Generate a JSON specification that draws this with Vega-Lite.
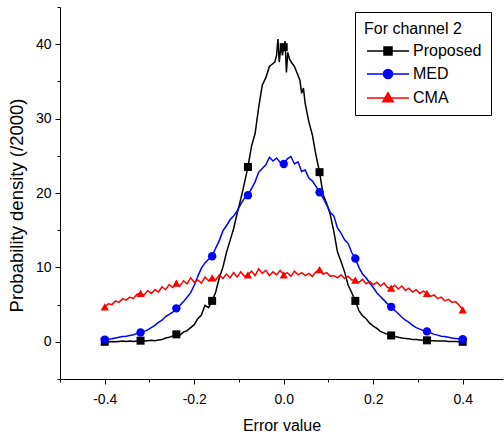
{
  "$schema": "https://vega.github.io/schema/vega-lite/v6.json",
  "width": 443,
  "height": 372,
  "autosize": {"type": "none"},
  "padding": {"left": 60, "top": 7, "right": 1, "bottom": 58},
  "background": "white",
  "config": {
    "view": {"stroke": null},
    "font": "Liberation Sans",
    "axis": {"grid": false, "domainColor": "black", "tickColor": "black", "labelColor": "black", "titleColor": "black", "titleFontWeight": "normal", "labelFontSize": 14, "titleFontSize": 16, "labelOverlap": false, "labelFlush": false, "domainWidth": 1, "tickWidth": 1}
  },
  "datasets": {
    "curves": [
      {"x": -0.4, "y": 0, "s": "Proposed"}, {"x": -0.392, "y": 0, "s": "Proposed"}, {"x": -0.384, "y": 0.05, "s": "Proposed"}, {"x": -0.376, "y": 0, "s": "Proposed"}, {"x": -0.368, "y": 0.05, "s": "Proposed"}, {"x": -0.36, "y": 0.1, "s": "Proposed"}, {"x": -0.352, "y": 0.05, "s": "Proposed"}, {"x": -0.344, "y": 0.1, "s": "Proposed"}, {"x": -0.336, "y": 0.05, "s": "Proposed"}, {"x": -0.328, "y": 0.1, "s": "Proposed"},
      {"x": -0.32, "y": 0.15, "s": "Proposed"}, {"x": -0.312, "y": 0.1, "s": "Proposed"}, {"x": -0.304, "y": 0.15, "s": "Proposed"}, {"x": -0.296, "y": 0.2, "s": "Proposed"}, {"x": -0.288, "y": 0.15, "s": "Proposed"}, {"x": -0.28, "y": 0.25, "s": "Proposed"}, {"x": -0.272, "y": 0.3, "s": "Proposed"}, {"x": -0.264, "y": 0.5, "s": "Proposed"}, {"x": -0.256, "y": 0.6, "s": "Proposed"}, {"x": -0.248, "y": 0.8, "s": "Proposed"},
      {"x": -0.24, "y": 1.0, "s": "Proposed"}, {"x": -0.232, "y": 0.9, "s": "Proposed"}, {"x": -0.224, "y": 1.3, "s": "Proposed"}, {"x": -0.216, "y": 1.5, "s": "Proposed"}, {"x": -0.208, "y": 1.9, "s": "Proposed"}, {"x": -0.2, "y": 2.3, "s": "Proposed"}, {"x": -0.192, "y": 3.1, "s": "Proposed"}, {"x": -0.184, "y": 3.6, "s": "Proposed"}, {"x": -0.176, "y": 4.9, "s": "Proposed"}, {"x": -0.168, "y": 4.6, "s": "Proposed"},
      {"x": -0.16, "y": 5.5, "s": "Proposed"}, {"x": -0.152, "y": 6.7, "s": "Proposed"}, {"x": -0.144, "y": 8.6, "s": "Proposed"}, {"x": -0.136, "y": 10.0, "s": "Proposed"}, {"x": -0.128, "y": 12.0, "s": "Proposed"}, {"x": -0.12, "y": 13.6, "s": "Proposed"}, {"x": -0.112, "y": 15.2, "s": "Proposed"}, {"x": -0.104, "y": 17.3, "s": "Proposed"}, {"x": -0.096, "y": 19.2, "s": "Proposed"}, {"x": -0.088, "y": 21.3, "s": "Proposed"},
      {"x": -0.08, "y": 23.5, "s": "Proposed"}, {"x": -0.072, "y": 26.3, "s": "Proposed"}, {"x": -0.064, "y": 28.0, "s": "Proposed"}, {"x": -0.056, "y": 31.5, "s": "Proposed"}, {"x": -0.048, "y": 34.5, "s": "Proposed"}, {"x": -0.04, "y": 35.5, "s": "Proposed"}, {"x": -0.032, "y": 37.0, "s": "Proposed"}, {"x": -0.024, "y": 37.4, "s": "Proposed"}, {"x": -0.02, "y": 37.6, "s": "Proposed"}, {"x": -0.016, "y": 38.5, "s": "Proposed"},
      {"x": -0.013, "y": 40.7, "s": "Proposed"}, {"x": -0.01, "y": 37.6, "s": "Proposed"}, {"x": -0.006, "y": 40.0, "s": "Proposed"}, {"x": -0.003, "y": 38.5, "s": "Proposed"}, {"x": 0, "y": 39.6, "s": "Proposed"}, {"x": 0.003, "y": 40.4, "s": "Proposed"}, {"x": 0.006, "y": 36.2, "s": "Proposed"}, {"x": 0.009, "y": 38.9, "s": "Proposed"}, {"x": 0.013, "y": 38.0, "s": "Proposed"}, {"x": 0.018, "y": 37.5, "s": "Proposed"},
      {"x": 0.024, "y": 37.0, "s": "Proposed"}, {"x": 0.032, "y": 35.8, "s": "Proposed"}, {"x": 0.036, "y": 35.2, "s": "Proposed"}, {"x": 0.04, "y": 33.4, "s": "Proposed"}, {"x": 0.044, "y": 34.1, "s": "Proposed"}, {"x": 0.048, "y": 32.0, "s": "Proposed"}, {"x": 0.056, "y": 29.6, "s": "Proposed"}, {"x": 0.064, "y": 27.8, "s": "Proposed"}, {"x": 0.072, "y": 25.1, "s": "Proposed"}, {"x": 0.08, "y": 22.8, "s": "Proposed"},
      {"x": 0.088, "y": 19.8, "s": "Proposed"}, {"x": 0.096, "y": 18.6, "s": "Proposed"}, {"x": 0.104, "y": 17.1, "s": "Proposed"}, {"x": 0.112, "y": 14.8, "s": "Proposed"}, {"x": 0.12, "y": 12.1, "s": "Proposed"}, {"x": 0.128, "y": 10.8, "s": "Proposed"}, {"x": 0.136, "y": 9.4, "s": "Proposed"}, {"x": 0.144, "y": 7.6, "s": "Proposed"}, {"x": 0.152, "y": 6.6, "s": "Proposed"}, {"x": 0.16, "y": 5.5, "s": "Proposed"},
      {"x": 0.168, "y": 4.2, "s": "Proposed"}, {"x": 0.176, "y": 3.5, "s": "Proposed"}, {"x": 0.184, "y": 3.1, "s": "Proposed"}, {"x": 0.192, "y": 2.5, "s": "Proposed"}, {"x": 0.2, "y": 2.1, "s": "Proposed"}, {"x": 0.208, "y": 1.8, "s": "Proposed"}, {"x": 0.216, "y": 1.4, "s": "Proposed"}, {"x": 0.224, "y": 1.2, "s": "Proposed"}, {"x": 0.232, "y": 1.0, "s": "Proposed"}, {"x": 0.24, "y": 0.85, "s": "Proposed"},
      {"x": 0.248, "y": 0.7, "s": "Proposed"}, {"x": 0.256, "y": 0.6, "s": "Proposed"}, {"x": 0.264, "y": 0.5, "s": "Proposed"}, {"x": 0.272, "y": 0.45, "s": "Proposed"}, {"x": 0.28, "y": 0.4, "s": "Proposed"}, {"x": 0.288, "y": 0.3, "s": "Proposed"}, {"x": 0.296, "y": 0.3, "s": "Proposed"}, {"x": 0.304, "y": 0.25, "s": "Proposed"}, {"x": 0.312, "y": 0.2, "s": "Proposed"}, {"x": 0.32, "y": 0.2, "s": "Proposed"},
      {"x": 0.328, "y": 0.15, "s": "Proposed"}, {"x": 0.336, "y": 0.15, "s": "Proposed"}, {"x": 0.344, "y": 0.1, "s": "Proposed"}, {"x": 0.352, "y": 0.1, "s": "Proposed"}, {"x": 0.36, "y": 0.1, "s": "Proposed"}, {"x": 0.368, "y": 0.05, "s": "Proposed"}, {"x": 0.376, "y": 0.05, "s": "Proposed"}, {"x": 0.384, "y": 0.05, "s": "Proposed"}, {"x": 0.392, "y": 0, "s": "Proposed"}, {"x": 0.4, "y": 0, "s": "Proposed"},

      {"x": -0.4, "y": 0.3, "s": "MED"}, {"x": -0.392, "y": 0.35, "s": "MED"}, {"x": -0.384, "y": 0.4, "s": "MED"}, {"x": -0.376, "y": 0.5, "s": "MED"}, {"x": -0.368, "y": 0.6, "s": "MED"}, {"x": -0.36, "y": 0.7, "s": "MED"}, {"x": -0.352, "y": 0.75, "s": "MED"}, {"x": -0.344, "y": 0.85, "s": "MED"}, {"x": -0.336, "y": 0.95, "s": "MED"}, {"x": -0.328, "y": 1.1, "s": "MED"},
      {"x": -0.32, "y": 1.25, "s": "MED"}, {"x": -0.312, "y": 1.4, "s": "MED"}, {"x": -0.304, "y": 1.6, "s": "MED"}, {"x": -0.296, "y": 1.9, "s": "MED"}, {"x": -0.288, "y": 2.2, "s": "MED"}, {"x": -0.28, "y": 2.6, "s": "MED"}, {"x": -0.272, "y": 2.9, "s": "MED"}, {"x": -0.264, "y": 3.4, "s": "MED"}, {"x": -0.256, "y": 3.7, "s": "MED"}, {"x": -0.248, "y": 4.0, "s": "MED"},
      {"x": -0.24, "y": 4.5, "s": "MED"}, {"x": -0.232, "y": 4.9, "s": "MED"}, {"x": -0.224, "y": 5.4, "s": "MED"}, {"x": -0.216, "y": 6.0, "s": "MED"}, {"x": -0.208, "y": 6.6, "s": "MED"}, {"x": -0.2, "y": 7.6, "s": "MED"}, {"x": -0.192, "y": 8.8, "s": "MED"}, {"x": -0.184, "y": 9.9, "s": "MED"}, {"x": -0.176, "y": 10.6, "s": "MED"}, {"x": -0.168, "y": 11.1, "s": "MED"},
      {"x": -0.16, "y": 11.5, "s": "MED"}, {"x": -0.152, "y": 12.6, "s": "MED"}, {"x": -0.144, "y": 13.6, "s": "MED"}, {"x": -0.136, "y": 14.9, "s": "MED"}, {"x": -0.128, "y": 15.6, "s": "MED"}, {"x": -0.12, "y": 16.4, "s": "MED"}, {"x": -0.112, "y": 16.9, "s": "MED"}, {"x": -0.104, "y": 17.6, "s": "MED"}, {"x": -0.096, "y": 18.5, "s": "MED"}, {"x": -0.088, "y": 19.3, "s": "MED"},
      {"x": -0.08, "y": 19.7, "s": "MED"}, {"x": -0.072, "y": 20.6, "s": "MED"}, {"x": -0.064, "y": 21.5, "s": "MED"}, {"x": -0.056, "y": 22.8, "s": "MED"}, {"x": -0.048, "y": 23.3, "s": "MED"}, {"x": -0.04, "y": 23.8, "s": "MED"}, {"x": -0.032, "y": 24.8, "s": "MED"}, {"x": -0.024, "y": 24.3, "s": "MED"}, {"x": -0.016, "y": 24.7, "s": "MED"}, {"x": -0.008, "y": 24.1, "s": "MED"},
      {"x": 0, "y": 23.9, "s": "MED"}, {"x": 0.008, "y": 24.6, "s": "MED"}, {"x": 0.016, "y": 24.9, "s": "MED"}, {"x": 0.024, "y": 23.9, "s": "MED"}, {"x": 0.032, "y": 24.2, "s": "MED"}, {"x": 0.04, "y": 22.9, "s": "MED"}, {"x": 0.048, "y": 23.1, "s": "MED"}, {"x": 0.056, "y": 22.0, "s": "MED"}, {"x": 0.064, "y": 21.6, "s": "MED"}, {"x": 0.072, "y": 20.9, "s": "MED"},
      {"x": 0.08, "y": 20.1, "s": "MED"}, {"x": 0.088, "y": 19.3, "s": "MED"}, {"x": 0.096, "y": 18.4, "s": "MED"}, {"x": 0.104, "y": 17.4, "s": "MED"}, {"x": 0.112, "y": 16.9, "s": "MED"}, {"x": 0.12, "y": 15.3, "s": "MED"}, {"x": 0.128, "y": 14.6, "s": "MED"}, {"x": 0.136, "y": 13.7, "s": "MED"}, {"x": 0.144, "y": 13.2, "s": "MED"}, {"x": 0.152, "y": 12.0, "s": "MED"},
      {"x": 0.16, "y": 11.2, "s": "MED"}, {"x": 0.168, "y": 10.0, "s": "MED"}, {"x": 0.176, "y": 9.1, "s": "MED"}, {"x": 0.184, "y": 8.6, "s": "MED"}, {"x": 0.192, "y": 7.9, "s": "MED"}, {"x": 0.2, "y": 7.3, "s": "MED"}, {"x": 0.208, "y": 6.6, "s": "MED"}, {"x": 0.216, "y": 6.1, "s": "MED"}, {"x": 0.224, "y": 5.6, "s": "MED"}, {"x": 0.232, "y": 5.1, "s": "MED"},
      {"x": 0.24, "y": 4.7, "s": "MED"}, {"x": 0.248, "y": 4.2, "s": "MED"}, {"x": 0.256, "y": 3.8, "s": "MED"}, {"x": 0.264, "y": 3.3, "s": "MED"}, {"x": 0.272, "y": 2.9, "s": "MED"}, {"x": 0.28, "y": 2.6, "s": "MED"}, {"x": 0.288, "y": 2.2, "s": "MED"}, {"x": 0.296, "y": 1.9, "s": "MED"}, {"x": 0.304, "y": 1.7, "s": "MED"}, {"x": 0.312, "y": 1.5, "s": "MED"},
      {"x": 0.32, "y": 1.4, "s": "MED"}, {"x": 0.328, "y": 1.2, "s": "MED"}, {"x": 0.336, "y": 1.0, "s": "MED"}, {"x": 0.344, "y": 0.9, "s": "MED"}, {"x": 0.352, "y": 0.75, "s": "MED"}, {"x": 0.36, "y": 0.7, "s": "MED"}, {"x": 0.368, "y": 0.6, "s": "MED"}, {"x": 0.376, "y": 0.5, "s": "MED"}, {"x": 0.384, "y": 0.45, "s": "MED"}, {"x": 0.392, "y": 0.4, "s": "MED"}, {"x": 0.4, "y": 0.35, "s": "MED"},

      {"x": -0.4, "y": 4.7, "s": "CMA"}, {"x": -0.392, "y": 5.1, "s": "CMA"}, {"x": -0.384, "y": 5.0, "s": "CMA"}, {"x": -0.376, "y": 5.5, "s": "CMA"}, {"x": -0.368, "y": 5.3, "s": "CMA"}, {"x": -0.36, "y": 5.8, "s": "CMA"}, {"x": -0.352, "y": 5.6, "s": "CMA"}, {"x": -0.344, "y": 6.0, "s": "CMA"}, {"x": -0.336, "y": 5.8, "s": "CMA"}, {"x": -0.328, "y": 6.4, "s": "CMA"},
      {"x": -0.32, "y": 6.5, "s": "CMA"}, {"x": -0.312, "y": 6.3, "s": "CMA"}, {"x": -0.304, "y": 6.9, "s": "CMA"}, {"x": -0.296, "y": 6.5, "s": "CMA"}, {"x": -0.288, "y": 7.0, "s": "CMA"}, {"x": -0.28, "y": 6.7, "s": "CMA"}, {"x": -0.272, "y": 7.4, "s": "CMA"}, {"x": -0.264, "y": 7.0, "s": "CMA"}, {"x": -0.256, "y": 7.7, "s": "CMA"}, {"x": -0.248, "y": 7.3, "s": "CMA"},
      {"x": -0.24, "y": 7.9, "s": "CMA"}, {"x": -0.232, "y": 7.5, "s": "CMA"}, {"x": -0.224, "y": 8.2, "s": "CMA"}, {"x": -0.216, "y": 7.8, "s": "CMA"}, {"x": -0.208, "y": 8.6, "s": "CMA"}, {"x": -0.2, "y": 8.0, "s": "CMA"}, {"x": -0.192, "y": 8.3, "s": "CMA"}, {"x": -0.184, "y": 7.9, "s": "CMA"}, {"x": -0.176, "y": 8.7, "s": "CMA"}, {"x": -0.168, "y": 8.2, "s": "CMA"},
      {"x": -0.16, "y": 8.6, "s": "CMA"}, {"x": -0.152, "y": 8.3, "s": "CMA"}, {"x": -0.144, "y": 9.0, "s": "CMA"}, {"x": -0.136, "y": 8.5, "s": "CMA"}, {"x": -0.128, "y": 9.1, "s": "CMA"}, {"x": -0.12, "y": 8.6, "s": "CMA"}, {"x": -0.112, "y": 9.3, "s": "CMA"}, {"x": -0.104, "y": 8.7, "s": "CMA"}, {"x": -0.096, "y": 9.4, "s": "CMA"}, {"x": -0.088, "y": 8.8, "s": "CMA"},
      {"x": -0.08, "y": 9.0, "s": "CMA"}, {"x": -0.072, "y": 9.5, "s": "CMA"}, {"x": -0.064, "y": 8.9, "s": "CMA"}, {"x": -0.056, "y": 9.8, "s": "CMA"}, {"x": -0.048, "y": 9.2, "s": "CMA"}, {"x": -0.04, "y": 9.6, "s": "CMA"}, {"x": -0.032, "y": 8.9, "s": "CMA"}, {"x": -0.024, "y": 9.4, "s": "CMA"}, {"x": -0.016, "y": 9.0, "s": "CMA"}, {"x": -0.008, "y": 9.6, "s": "CMA"},
      {"x": 0, "y": 9.0, "s": "CMA"}, {"x": 0.008, "y": 9.3, "s": "CMA"}, {"x": 0.016, "y": 8.8, "s": "CMA"}, {"x": 0.024, "y": 9.5, "s": "CMA"}, {"x": 0.032, "y": 9.0, "s": "CMA"}, {"x": 0.04, "y": 9.3, "s": "CMA"}, {"x": 0.048, "y": 8.9, "s": "CMA"}, {"x": 0.056, "y": 9.2, "s": "CMA"}, {"x": 0.064, "y": 8.8, "s": "CMA"}, {"x": 0.072, "y": 9.4, "s": "CMA"},
      {"x": 0.08, "y": 9.7, "s": "CMA"}, {"x": 0.088, "y": 9.1, "s": "CMA"}, {"x": 0.096, "y": 9.3, "s": "CMA"}, {"x": 0.104, "y": 8.8, "s": "CMA"}, {"x": 0.112, "y": 8.9, "s": "CMA"}, {"x": 0.12, "y": 8.6, "s": "CMA"}, {"x": 0.128, "y": 9.0, "s": "CMA"}, {"x": 0.136, "y": 8.5, "s": "CMA"}, {"x": 0.144, "y": 8.8, "s": "CMA"}, {"x": 0.152, "y": 8.3, "s": "CMA"},
      {"x": 0.16, "y": 8.3, "s": "CMA"}, {"x": 0.168, "y": 8.0, "s": "CMA"}, {"x": 0.176, "y": 8.4, "s": "CMA"}, {"x": 0.184, "y": 7.8, "s": "CMA"}, {"x": 0.192, "y": 8.1, "s": "CMA"}, {"x": 0.2, "y": 7.7, "s": "CMA"}, {"x": 0.208, "y": 8.0, "s": "CMA"}, {"x": 0.216, "y": 7.5, "s": "CMA"}, {"x": 0.224, "y": 7.9, "s": "CMA"}, {"x": 0.232, "y": 7.3, "s": "CMA"},
      {"x": 0.24, "y": 7.2, "s": "CMA"}, {"x": 0.248, "y": 7.6, "s": "CMA"}, {"x": 0.256, "y": 7.1, "s": "CMA"}, {"x": 0.264, "y": 7.5, "s": "CMA"}, {"x": 0.272, "y": 6.9, "s": "CMA"}, {"x": 0.28, "y": 7.2, "s": "CMA"}, {"x": 0.288, "y": 6.7, "s": "CMA"}, {"x": 0.296, "y": 7.0, "s": "CMA"}, {"x": 0.304, "y": 6.5, "s": "CMA"}, {"x": 0.312, "y": 6.8, "s": "CMA"},
      {"x": 0.32, "y": 6.5, "s": "CMA"}, {"x": 0.328, "y": 6.1, "s": "CMA"}, {"x": 0.336, "y": 6.3, "s": "CMA"}, {"x": 0.344, "y": 5.8, "s": "CMA"}, {"x": 0.352, "y": 6.0, "s": "CMA"}, {"x": 0.36, "y": 5.5, "s": "CMA"}, {"x": 0.368, "y": 5.7, "s": "CMA"}, {"x": 0.376, "y": 5.3, "s": "CMA"}, {"x": 0.384, "y": 5.4, "s": "CMA"}, {"x": 0.392, "y": 4.9, "s": "CMA"}, {"x": 0.4, "y": 4.3, "s": "CMA"}
    ]
  },
  "data": {"name": "curves"},
  "encoding": {
    "x": {
      "field": "x", "type": "quantitative",
      "scale": {"domain": [-0.5, 0.49], "nice": false, "zero": false},
      "axis": {
        "title": "Error value",
        "values": [-0.5, -0.4, -0.3, -0.2, -0.1, 0, 0.1, 0.2, 0.3, 0.4],
        "labelExpr": "abs(round(datum.value*10)) % 2 == 0 ? replace(format(datum.value, '.1f'), '\u2212', '-') : ''",
        "tickSize": {"condition": {"test": "abs(round(datum.value*10)) % 2 == 0", "value": 5}, "value": 3},
        "labelPadding": 8,
        "titlePadding": 11
      }
    },
    "y": {
      "field": "y", "type": "quantitative",
      "scale": {"domain": [-5, 45], "nice": false, "zero": false},
      "axis": {
        "title": "Probability density (/2000)",
        "titleFontSize": 18.5,
        "titleY": 198,
        "values": [-5, 0, 5, 10, 15, 20, 25, 30, 35, 40, 45],
        "labelExpr": "datum.value % 10 == 0 ? datum.label : ''",
        "tickSize": {"condition": {"test": "datum.value % 10 == 0", "value": 5}, "value": 3},
        "labelPadding": 4,
        "titlePadding": 9
      }
    }
  },
  "layer": [
    {
      "mark": {"type": "line", "strokeWidth": 1.5},
      "encoding": {
        "color": {
          "field": "s", "type": "nominal",
          "scale": {"domain": ["Proposed", "MED", "CMA"], "range": ["#000000", "#0000ff", "#ff0000"]},
          "legend": {
            "orient": "none", "legendX": 295, "legendY": 5,
            "title": "For channel 2", "titleFontSize": 16, "titleFontWeight": "normal", "titleColor": "black", "titleFont": "Liberation Sans",
            "labelFontSize": 16, "labelColor": "black", "labelFont": "Liberation Sans",
            "strokeColor": "black", "fillColor": "white", "padding": 9,
            "symbolSize": 64, "symbolOffset": 16, "labelOffset": 17, "rowPadding": 7, "titlePadding": 6,
            "encode": {
              "symbols": {
                "update": {
                  "shape": {"signal": "datum.value === 'Proposed' ? 'M-5.25,0H5.25M-1,-1H1V1H-1Z' : datum.value === 'MED' ? 'M-5.25,0H5.25M1.15,0A1.15,1.15,0,1,1,-1.15,0A1.15,1.15,0,1,1,1.15,0Z' : 'M-5.25,0H5.25M0,-1.3L1.3,0.95H-1.3Z'"},
                  "stroke": {"signal": "datum.value === 'Proposed' ? '#000000' : datum.value === 'MED' ? '#0000ff' : '#ff0000'"},
                  "fill": {"signal": "datum.value === 'Proposed' ? '#000000' : datum.value === 'MED' ? '#0000ff' : '#ff0000'"},
                  "strokeWidth": {"value": 1.5},
                  "opacity": {"value": 1},
                  "fillOpacity": {"value": 1},
                  "strokeOpacity": {"value": 1}
                }
              }
            }
          }
        }
      }
    },
    {
      "transform": [{"filter": "datum.s === 'Proposed' && abs(datum.x*12.5 - round(datum.x*12.5)) < 0.001"}],
      "mark": {"type": "point", "filled": true, "shape": "square", "size": 64, "opacity": 1, "color": "#000000"}
    },
    {
      "transform": [{"filter": "datum.s === 'MED' && abs(datum.x*12.5 - round(datum.x*12.5)) < 0.001"}],
      "mark": {"type": "point", "filled": true, "shape": "circle", "size": 70, "opacity": 1, "color": "#0000ff"}
    },
    {
      "transform": [{"filter": "datum.s === 'CMA' && abs(datum.x*12.5 - round(datum.x*12.5)) < 0.001"}],
      "mark": {"type": "point", "filled": true, "shape": "triangle-up", "size": 70, "opacity": 1, "color": "#ff0000"}
    }
  ]
}
